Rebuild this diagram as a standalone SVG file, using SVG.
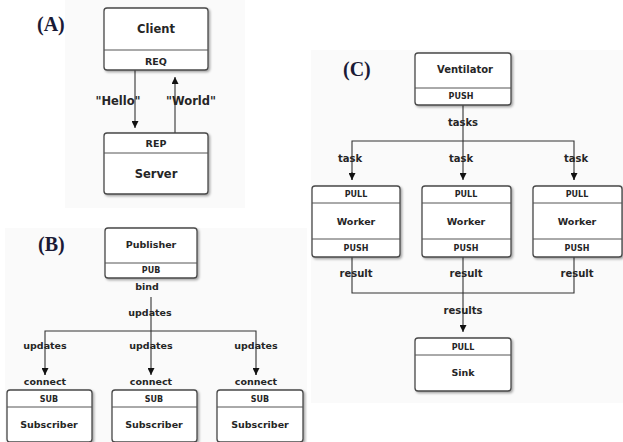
<svg xmlns="http://www.w3.org/2000/svg" width="623" height="442" viewBox="0 0 623 442">
<defs>
<style>
.box{fill:#fff;stroke:#484848;stroke-width:1.3;filter:url(#sh)}
.div{stroke:#555;stroke-width:1}
.ln{fill:none;stroke:#333;stroke-width:1.1}
text{font-family:"DejaVu Sans","Noto Sans",sans-serif;font-weight:bold;fill:#262626;text-anchor:middle}
.pl{font-family:"Liberation Serif","Times New Roman",serif;font-size:20px;fill:#1a1a36;text-anchor:start}
.bg{fill:#fafafa}
</style>
<filter id="sh" x="-10%" y="-10%" width="130%" height="130%">
<feDropShadow dx="1.5" dy="1.5" stdDeviation="1" flood-color="#000" flood-opacity="0.35"/>
</filter>
<marker id="ah" viewBox="0 0 10 10" refX="10" refY="5" markerWidth="8" markerHeight="7" markerUnits="userSpaceOnUse" orient="auto">
<path d="M0,0 L10,5 L0,10 z" fill="#111"/>
</marker>
</defs>
<rect width="623" height="442" fill="#fff"/>
<rect class="bg" x="65" y="0" width="180" height="208"/>
<rect class="bg" x="5" y="228" width="302" height="214"/>
<rect class="bg" x="311" y="50" width="312" height="353"/>

<text class="pl" x="37" y="31">(A)</text>
<text class="pl" x="38" y="251">(B)</text>
<text class="pl" x="343" y="76">(C)</text>

<g id="connectors">
<line class="ln" x1="135" y1="70" x2="135" y2="128" marker-end="url(#ah)"/>
<line class="ln" x1="175" y1="133" x2="175" y2="77" marker-end="url(#ah)"/>
<text x="118" y="105" font-size="11.5">"Hello"</text>
<text x="191" y="105" font-size="11.5">"World"</text>

<line class="ln" x1="151" y1="297" x2="151" y2="375" marker-end="url(#ah)"/>
<polyline class="ln" points="45,375 45,331 256,331 256,375"/>
<line class="ln" x1="45" y1="368" x2="45" y2="375" marker-end="url(#ah)"/>
<line class="ln" x1="256" y1="368" x2="256" y2="375" marker-end="url(#ah)"/>
<text x="147" y="290" font-size="9.5">bind</text>
<text x="150" y="316" font-size="9.5">updates</text>
<text x="45" y="349" font-size="9.5">updates</text>
<text x="151" y="349" font-size="9.5">updates</text>
<text x="256" y="349" font-size="9.5">updates</text>
<text x="45" y="385" font-size="9.5">connect</text>
<text x="151" y="385" font-size="9.5">connect</text>
<text x="256" y="385" font-size="9.5">connect</text>

<line class="ln" x1="463" y1="105" x2="463" y2="180" marker-end="url(#ah)"/>
<polyline class="ln" points="352,180 352,141 574,141 574,180"/>
<line class="ln" x1="352" y1="172" x2="352" y2="180" marker-end="url(#ah)"/>
<line class="ln" x1="574" y1="172" x2="574" y2="180" marker-end="url(#ah)"/>
<text x="463" y="126" font-size="10">tasks</text>
<text x="350" y="162" font-size="10">task</text>
<text x="461" y="162" font-size="10">task</text>
<text x="576" y="162" font-size="10">task</text>

<polyline class="ln" points="352,257 352,293 574,293 574,257"/>
<line class="ln" x1="463" y1="257" x2="463" y2="332" marker-end="url(#ah)"/>
<text x="356" y="277" font-size="10">result</text>
<text x="466" y="277" font-size="10">result</text>
<text x="577" y="277" font-size="10">result</text>
<text x="463" y="314" font-size="10">results</text>
</g>

<g id="client">
<rect class="box" x="104" y="8" width="104" height="62" rx="3"/>
<line class="div" x1="104" y1="50" x2="208" y2="50"/>
<text x="156" y="33" font-size="11.5">Client</text>
<text x="156" y="65" font-size="9.5">REQ</text>
</g>
<g id="server">
<rect class="box" x="104" y="133" width="104" height="61" rx="3"/>
<line class="div" x1="104" y1="153" x2="208" y2="153"/>
<text x="156" y="147" font-size="9.5">REP</text>
<text x="156" y="178" font-size="11.5">Server</text>
</g>

<g id="publisher">
<rect class="box" x="105" y="228" width="92" height="50" rx="3"/>
<line class="div" x1="105" y1="263" x2="197" y2="263"/>
<text x="151" y="248" font-size="9.5">Publisher</text>
<text x="151" y="273" font-size="8">PUB</text>
</g>
<g id="subscriber1">
<rect class="box" x="7" y="390" width="85" height="52" rx="3"/>
<line class="div" x1="7" y1="407" x2="92" y2="407"/>
<text x="49" y="402" font-size="8">SUB</text>
<text x="49" y="428" font-size="9.5">Subscriber</text>
</g>
<g id="subscriber2">
<rect class="box" x="112" y="390" width="85" height="52" rx="3"/>
<line class="div" x1="112" y1="407" x2="197" y2="407"/>
<text x="154" y="402" font-size="8">SUB</text>
<text x="154" y="428" font-size="9.5">Subscriber</text>
</g>
<g id="subscriber3">
<rect class="box" x="217" y="390" width="86" height="52" rx="3"/>
<line class="div" x1="217" y1="407" x2="303" y2="407"/>
<text x="260" y="402" font-size="8">SUB</text>
<text x="260" y="428" font-size="9.5">Subscriber</text>
</g>

<g id="ventilator">
<rect class="box" x="415" y="53" width="96" height="52" rx="3"/>
<line class="div" x1="415" y1="88" x2="511" y2="88"/>
<text x="465" y="73" font-size="10">Ventilator</text>
<text x="461" y="99" font-size="8">PUSH</text>
</g>
<g id="worker1">
<rect class="box" x="312" y="186" width="88" height="71" rx="3"/>
<line class="div" x1="312" y1="203" x2="400" y2="203"/>
<line class="div" x1="312" y1="239" x2="400" y2="239"/>
<text x="356" y="197" font-size="8">PULL</text>
<text x="356" y="225" font-size="9.5">Worker</text>
<text x="356" y="251" font-size="8">PUSH</text>
</g>
<g id="worker2">
<rect class="box" x="422" y="186" width="89" height="71" rx="3"/>
<line class="div" x1="422" y1="203" x2="511" y2="203"/>
<line class="div" x1="422" y1="239" x2="511" y2="239"/>
<text x="466" y="197" font-size="8">PULL</text>
<text x="466" y="225" font-size="9.5">Worker</text>
<text x="466" y="251" font-size="8">PUSH</text>
</g>
<g id="worker3">
<rect class="box" x="533" y="186" width="89" height="71" rx="3"/>
<line class="div" x1="533" y1="203" x2="622" y2="203"/>
<line class="div" x1="533" y1="239" x2="622" y2="239"/>
<text x="577" y="197" font-size="8">PULL</text>
<text x="577" y="225" font-size="9.5">Worker</text>
<text x="577" y="251" font-size="8">PUSH</text>
</g>
<g id="sink">
<rect class="box" x="415" y="338" width="96" height="53" rx="3"/>
<line class="div" x1="415" y1="355" x2="511" y2="355"/>
<text x="463" y="350" font-size="8">PULL</text>
<text x="463" y="376" font-size="9.5">Sink</text>
</g>
</svg>
